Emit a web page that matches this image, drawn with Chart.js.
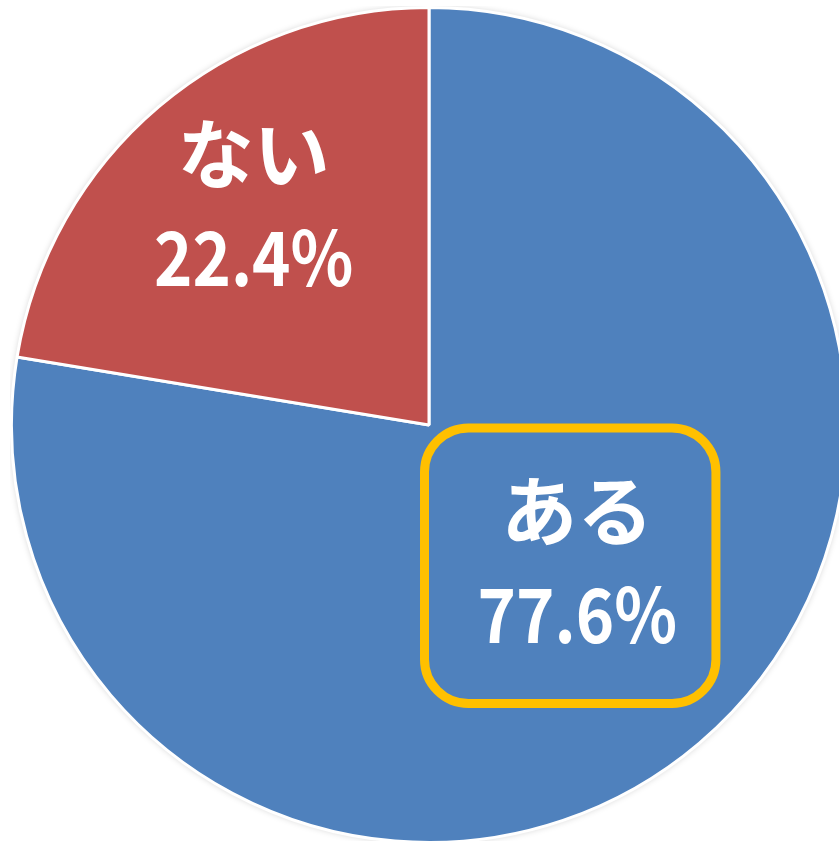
<!DOCTYPE html>
<html>
<head>
<meta charset="utf-8">
<script src="https://cdn.jsdelivr.net/npm/chart.js@4"></script>
<style>
  html, body { margin: 0; padding: 0; background: #fff; overflow: hidden; }
  body { width: 839px; height: 841px; position: relative; }
  #wrap { position: absolute; left: 10px; top: 6px; width: 838px; height: 838px; }
</style>
</head>
<body>
<div id="wrap"><canvas id="chartPie"></canvas></div>
<script>
const categories = ["ある", "ない"];
const percents = [77.6, 22.4];
const sliceColors = ["#4F81BD", "#C0504D"];

// label placement relative to pie centre, in radius units
const labelOffsets = [[0.355, 0.33], [-0.42, -0.525]];
const FONT = '"Noto Sans CJK JP", "Noto Sans", sans-serif';

const shadowPlugin = {
  id: "pieShadow",
  beforeDatasetsDraw(chart) {
    const arc = chart.getDatasetMeta(0).data[0];
    if (!arc) return;
    const ctx = chart.ctx;
    ctx.save();
    ctx.shadowColor = "rgba(0,0,0,0.22)";
    ctx.shadowBlur = 7;
    ctx.fillStyle = sliceColors[0];
    ctx.beginPath();
    ctx.arc(arc.x, arc.y, arc.outerRadius, 0, Math.PI * 2);
    ctx.fill();
    ctx.restore();
  },
};

const labelPlugin = {
  id: "pieLabels",
  afterDatasetsDraw(chart) {
    const ctx = chart.ctx;
    const meta = chart.getDatasetMeta(0);
    meta.data.forEach((arc, i) => {
      const r = arc.outerRadius;
      const cx = arc.x + labelOffsets[i][0] * r;
      const cy = arc.y + labelOffsets[i][1] * r;
      ctx.save();
      if (i === 0) {
        // orange rounded box around the first label
        const w = 0.698 * r, h = 0.66 * r;
        const bx = cx - 7, by = cy + 3;
        ctx.strokeStyle = "#FFC000";
        ctx.lineWidth = 9;
        ctx.beginPath();
        ctx.roundRect(bx - w / 2, by - h / 2, w, h, 44);
        ctx.stroke();
      }
      ctx.fillStyle = "#FFFFFF";
      ctx.textAlign = "center";
      ctx.textBaseline = "middle";
      ctx.font = "bold 76px " + FONT;
      ctx.fillText(categories[i], cx, cy - 52);
      // percentage, slightly condensed
      ctx.translate(cx, cy + 52);
      ctx.scale(0.87, 1);
      ctx.font = "bold 75px " + FONT;
      ctx.fillText(percents[i].toFixed(1) + "%", 0, 0);
      ctx.restore();
    });
  },
};

const ctxPie = document.getElementById("chartPie").getContext("2d");
const pieChart = new Chart(ctxPie, {
  type: "pie",
  data: {
    labels: categories,
    datasets: [
      {
        data: percents,
        backgroundColor: sliceColors,
        borderColor: "#FFFFFF",
        borderWidth: 3,
      },
    ],
  },
  options: {
    responsive: true,
    maintainAspectRatio: false,
    animation: false,
    layout: { padding: 0 },
    plugins: {
      legend: { display: false },
      tooltip: { enabled: false },
    },
  },
  plugins: [shadowPlugin, labelPlugin],
});
</script>
</body>
</html>
